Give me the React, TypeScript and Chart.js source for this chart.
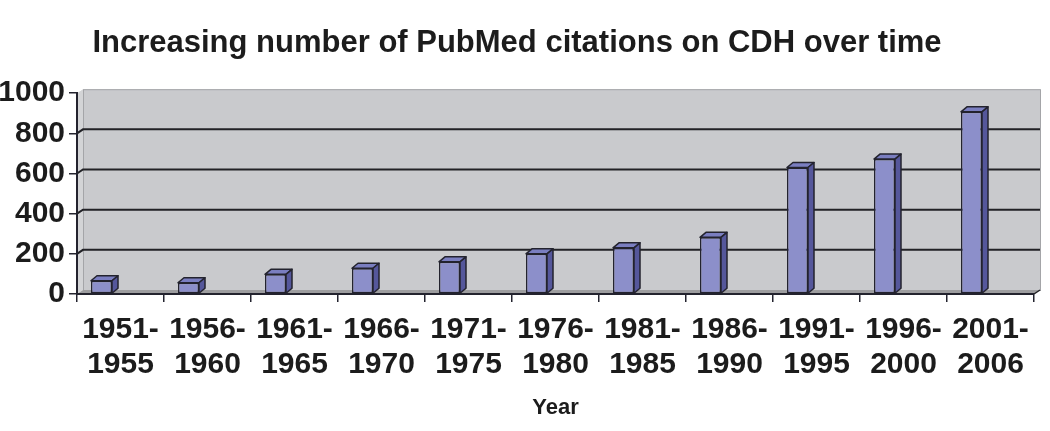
import React, { useEffect, useRef } from "react";
import { Chart, registerables } from "chart.js";

Chart.register(...registerables);

const TITLE = "Increasing number of PubMed citations on CDH over time";
const X_TITLE = "Year";
const categories: string[][] = [
  ["1951-", "1955"],
  ["1956-", "1960"],
  ["1961-", "1965"],
  ["1966-", "1970"],
  ["1971-", "1975"],
  ["1976-", "1980"],
  ["1981-", "1985"],
  ["1986-", "1990"],
  ["1991-", "1995"],
  ["1996-", "2000"],
  ["2001-", "2006"],
];
const citations: number[] = [66, 56, 98, 128, 160, 200, 230, 282, 630, 672, 907];
const yMin = 0;
const yMax = 1000;
const yStep = 200;

const FONT = "'Liberation Sans', Arial, Helvetica, sans-serif";
const TEXT = "#1c1c1c";
const EDGE = "#23232e";
const FRONT = "#8c8fca";
const TOPC = "#7a7ec0";
const SIDE = "#55579b";
const WALL = "#c9cacd";
const SIDEWALL = "#d3d4d6";
const FLOOR = "#9d9d9f";

const BAR_DX = 6;
const BAR_DY = -5;
const WALL_DX = 6;
const WALL_DY = -4;

const depthPlugin = {
  id: "depth3d",
  beforeDraw(chart: any) {
    const { ctx, chartArea } = chart;
    const { left, right, top, bottom } = chartArea;
    const y = chart.scales.y;
    ctx.save();
    ctx.fillStyle = SIDEWALL;
    ctx.beginPath();
    ctx.moveTo(left, top);
    ctx.lineTo(left + WALL_DX, top + WALL_DY);
    ctx.lineTo(left + WALL_DX, bottom + WALL_DY);
    ctx.lineTo(left, bottom);
    ctx.closePath();
    ctx.fill();
    ctx.fillStyle = WALL;
    ctx.fillRect(left + WALL_DX, top + WALL_DY, right - left, bottom - top);
    ctx.strokeStyle = "#a4a5a8";
    ctx.lineWidth = 1;
    ctx.strokeRect(left + WALL_DX + 0.5, top + WALL_DY + 0.5, right - left, bottom - top);
    ctx.fillStyle = FLOOR;
    ctx.beginPath();
    ctx.moveTo(left, bottom);
    ctx.lineTo(left + WALL_DX, bottom + WALL_DY);
    ctx.lineTo(right + WALL_DX, bottom + WALL_DY);
    ctx.lineTo(right, bottom);
    ctx.closePath();
    ctx.fill();
    ctx.strokeStyle = "#222226";
    ctx.lineWidth = 2;
    y.ticks.forEach((t: any) => {
      if (t.value <= yMin || t.value >= yMax) return;
      const py = y.getPixelForValue(t.value);
      ctx.beginPath();
      ctx.moveTo(left, py);
      ctx.lineTo(left + WALL_DX, py + WALL_DY);
      ctx.lineTo(right + WALL_DX, py + WALL_DY);
      ctx.stroke();
    });
    ctx.strokeStyle = "#222226";
    ctx.lineWidth = 1.5;
    ctx.beginPath();
    ctx.moveTo(right, bottom);
    ctx.lineTo(right + WALL_DX, bottom + WALL_DY);
    ctx.stroke();
    ctx.restore();
  },
  afterDatasetsDraw(chart: any) {
    const { ctx } = chart;
    const meta = chart.getDatasetMeta(0);
    ctx.save();
    ctx.lineWidth = 1.5;
    ctx.strokeStyle = EDGE;
    ctx.lineJoin = "round";
    meta.data.forEach((bar: any) => {
      const { x, y, base, width } = bar.getProps(["x", "y", "base", "width"], true);
      const l = x - width / 2;
      const r = x + width / 2;
      ctx.fillStyle = TOPC;
      ctx.beginPath();
      ctx.moveTo(l, y);
      ctx.lineTo(l + BAR_DX, y + BAR_DY);
      ctx.lineTo(r + BAR_DX, y + BAR_DY);
      ctx.lineTo(r, y);
      ctx.closePath();
      ctx.fill();
      ctx.stroke();
      ctx.fillStyle = SIDE;
      ctx.beginPath();
      ctx.moveTo(r, y);
      ctx.lineTo(r + BAR_DX, y + BAR_DY);
      ctx.lineTo(r + BAR_DX, base + BAR_DY);
      ctx.lineTo(r, base);
      ctx.closePath();
      ctx.fill();
      ctx.stroke();
    });
    ctx.restore();
  },
};

export default function App() {
  const ref = useRef<HTMLCanvasElement | null>(null);
  useEffect(() => {
    if (!ref.current) return;
    const chart = new Chart(ref.current, {
      type: "bar",
      data: {
        labels: categories as any,
        datasets: [
          {
            data: citations,
            backgroundColor: FRONT,
            borderColor: EDGE,
            borderWidth: 1.5,
            borderSkipped: false,
          } as any,
          { data: [] } as any,
        ],
      },
      options: {
        responsive: false,
        animation: false,
        datasets: { bar: { categoryPercentage: 0.874, barPercentage: 0.553 } } as any,
        layout: { padding: { left: 0, right: 16, top: 0, bottom: 0 } },
        plugins: {
          legend: { display: false },
          tooltip: { enabled: false },
          title: {
            display: true,
            text: TITLE,
            color: TEXT,
            font: { family: FONT, size: 31, weight: "bold", lineHeight: 1.2 },
            padding: { top: 25, bottom: 31 },
          },
        },
        scales: {
          x: {
            offset: true,
            grid: { offset: true, drawOnChartArea: false, drawTicks: true, tickLength: 8, color: EDGE, lineWidth: 1.5 },
            border: { display: true, color: EDGE, width: 2 },
            ticks: {
              color: TEXT,
              font: { family: FONT, size: 30, weight: "bold", lineHeight: 1.17 },
              padding: 10,
              maxRotation: 0,
              autoSkip: false,
            },
            title: {
              display: true,
              text: X_TITLE,
              color: TEXT,
              font: { family: FONT, size: 22, weight: "bold" },
              padding: { top: 0, bottom: 10 },
            },
            afterFit: (s: any) => {
              s.height = 137;
            },
          },
          y: {
            min: yMin,
            max: yMax,
            grid: { drawOnChartArea: false, drawTicks: true, tickLength: 8, color: EDGE, lineWidth: 1.5 },
            border: { display: true, color: EDGE, width: 2 },
            ticks: {
              stepSize: yStep,
              color: TEXT,
              font: { family: FONT, size: 30, weight: "bold" },
              padding: 4,
              callback: (v: any) => String(v),
            },
            afterFit: (s: any) => {
              s.width = 77;
            },
          },
        },
      },
      plugins: [depthPlugin],
    });
    return () => chart.destroy();
  }, []);
  return (
    <div style={{ position: "absolute", left: 0, top: 0, width: 1050, height: 431, background: "#fff" }}>
      <canvas ref={ref} width={1050} height={431} />
    </div>
  );
}
